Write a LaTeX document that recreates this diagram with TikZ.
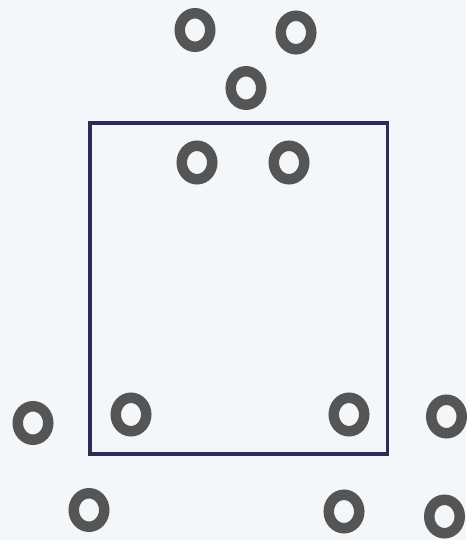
\documentclass[tikz,border=0pt]{standalone}
\usepackage{xcolor}
\usetikzlibrary{shapes.geometric}
\definecolor{bgcol}{HTML}{F4F7FA}
\definecolor{ringcol}{HTML}{555555}
\definecolor{framecol}{HTML}{2C2C58}
\tikzset{
  ring/.style={draw=ringcol, ellipse, line width=10.5pt, inner sep=0pt,
    minimum width=30.5pt, minimum height=33.5pt},
  frame/.style={draw=framecol, line width=3.5pt, inner sep=0pt,
    minimum width=297.5pt, minimum height=331pt}
}
\begin{document}
\begin{tikzpicture}[x=1pt, y=-1pt]
  \useasboundingbox[fill=bgcol] (0,0) rectangle (466,540);
  \node[frame] (box) at (238.5,288.5) {};
  % top group
  \node[ring] (topl) at (195,30) {};
  \node[ring] (topr) at (296,32.5) {};
  \node[ring] (topm) at (246,88) {};
  \node[ring] (inl) at (197,162.5) {};
  \node[ring] (inr) at (289,162.5) {};
  % bottom group
  \node[ring] (outl) at (33,423) {};
  \node[ring] (botl) at (131,414.5) {};
  \node[ring] (botr) at (349,414.5) {};
  \node[ring] (outr) at (446.5,416.5) {};
  \node[ring] (lowl) at (89,510) {};
  \node[ring] (lowm) at (344,511.5) {};
  \node[ring] (lowr) at (444.5,516.5) {};
\end{tikzpicture}
\end{document}
